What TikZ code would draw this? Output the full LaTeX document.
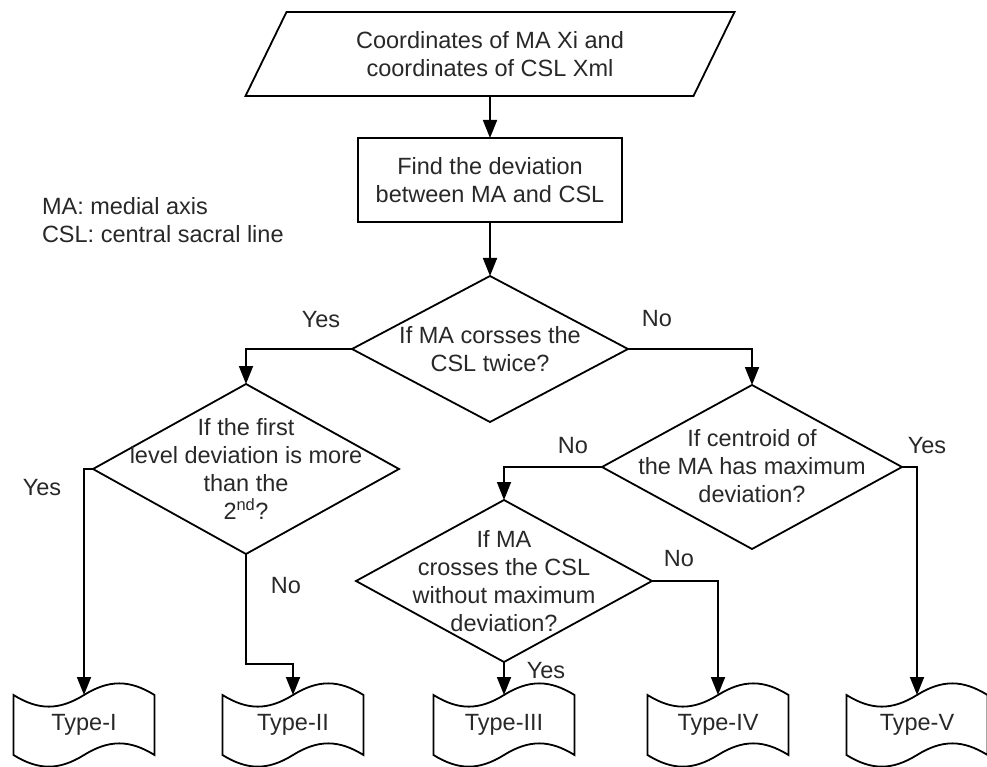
\documentclass[tikz,border=0pt]{standalone}
\usepackage{fontspec}
\setmainfont{Liberation Sans}
\usetikzlibrary{shapes.geometric,arrows.meta,calc}
\definecolor{txt}{RGB}{40,40,40}
\newcommand{\tapeoutline}[1]{%
  \draw[lin] (#1.north west)
    .. controls ($(#1.north west)+(25,15.5)$) and ($(#1.north)+(-25,15.5)$) .. (#1.north)
    .. controls ($(#1.north)+(25,-15.5)$) and ($(#1.north east)+(-25,-15.5)$) .. (#1.north east)
    -- (#1.south east)
    .. controls ($(#1.south east)+(-25,-15.5)$) and ($(#1.south)+(25,-15.5)$) .. (#1.south)
    .. controls ($(#1.south)+(-25,15.5)$) and ($(#1.south west)+(25,15.5)$) .. (#1.south west)
    -- cycle;}
\begin{document}
\begin{tikzpicture}[x=1pt,y=-1pt,
  lin/.style={line width=1.8pt, draw=black, line join=miter},
  arr/.style={lin, -{Triangle[length=18pt,width=14pt]}},
  lbl/.style={inner sep=0pt, outer sep=0pt, text=txt, font=\fontsize{23.5}{28}\selectfont, align=center},
  dia/.style={lin, shape=diamond, inner sep=0pt, outer sep=0pt},
  tape/.style={lbl, minimum width=141pt, minimum height=60pt}]
\useasboundingbox (0,0) rectangle (987,767);

% input parallelogram
\node[lbl, minimum width=448pt, minimum height=84pt] (in) at (490,54) {Coordinates of MA Xi and\\coordinates of CSL Xml};
\draw[lin] ($(in.north west)+(20.5,0)$) -- ($(in.north east)+(20.5,0)$) -- ($(in.south east)+(-20.5,0)$) -- ($(in.south west)+(-20.5,0)$) -- cycle;

% process box
\node[lbl, lin, draw, minimum width=264pt, minimum height=84pt] (r) at (490,180) {Find the deviation\\between MA and CSL};

% legend
\node[lbl, anchor=base west] (leg1) at (42,215) {MA: medial axis};
\node[lbl, anchor=base west] (leg2) at (42,243) {CSL: central sacral line};

% decisions
\node[dia, minimum width=276pt, minimum height=146pt] (d1) at (490,349) {};
\node[lbl] (d1t) at (490,349) {If MA corsses the\\CSL twice?};
\node[dia, minimum width=306pt, minimum height=170pt] (d2) at (246,469) {};
\node[lbl] (d2t) at (246,469) {If the first\\level deviation is more\\than the\\2\textsuperscript{nd}?};
\node[dia, minimum width=300pt, minimum height=164pt] (d3) at (752,467) {};
\node[lbl] (d3t) at (752,466) {If centroid of\\the MA has maximum\\deviation?};
\node[dia, minimum width=296pt, minimum height=162pt] (d4) at (504,581) {};
\node[lbl] (d4t) at (504,581) {If MA\\crosses the CSL\\without maximum\\deviation?};

% terminals (punched tape)
\node[tape] (t1) at (84,725) {Type-I};
\node[tape] (t2) at (293,725) {Type-II};
\node[tape] (t3) at (504,725) {Type-III};
\node[tape] (t4) at (718,725) {Type-IV};
\node[tape] (t5) at (917,725) {Type-V};
\tapeoutline{t1}
\tapeoutline{t2}
\tapeoutline{t3}
\tapeoutline{t4}
\tapeoutline{t5}

\coordinate (k2) at (293,664);

% connectors
\draw[arr] (in.south) -- (r.north);
\draw[arr] (r.south) -- (d1.north);
\draw[arr] (d1.west) -| (d2.north);
\draw[arr] (d1.east) -| (d3.north);
\draw[arr] (d2.west) -| (t1.north);
\draw[arr] (d2.south) |- (k2) -- (t2.north);
\draw[arr] (d3.west) -| (d4.north);
\draw[arr] (d3.east) -| (t5.north);
\draw[arr] (d4.east) -| (t4.north);
\draw[arr] (d4.south) -- (t3.north);

% branch labels
\node[lbl, anchor=base] (y1) at (321,327) {Yes};
\node[lbl, anchor=base] (n1) at (657,326) {No};
\node[lbl, anchor=base] (y2) at (42,495) {Yes};
\node[lbl, anchor=base] (n2) at (286,593) {No};
\node[lbl, anchor=base] (n3) at (573,453) {No};
\node[lbl, anchor=base] (y3) at (927,453) {Yes};
\node[lbl, anchor=base] (n4) at (679,566) {No};
\node[lbl, anchor=base] (y4) at (546,678) {Yes};
\end{tikzpicture}
\end{document}
